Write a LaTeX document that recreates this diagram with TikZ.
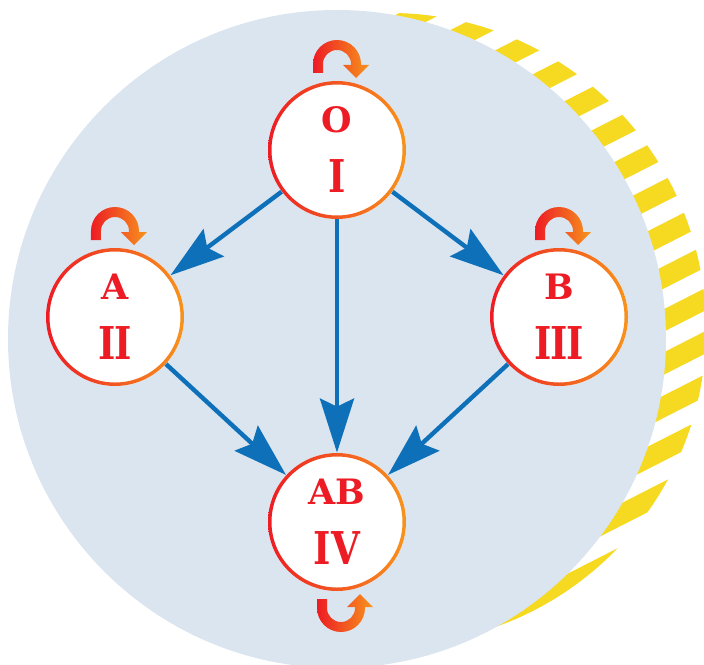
\documentclass[tikz,border=0pt]{standalone}
\usepackage{fontspec}
\setmainfont{DejaVu Serif}
\usetikzlibrary{arrows.meta,positioning}
\definecolor{plateBlue}   {HTML}{DBE5F0}
\definecolor{stripeYellow}{HTML}{F6D921}
\definecolor{flowBlue}    {HTML}{0D70B9}
\definecolor{stateRed}    {HTML}{ED1C24}
\definecolor{loopRed}     {HTML}{ED1C24}
\definecolor{loopOrange}  {HTML}{F7941D}
\tikzset{
  selfloop/.pic={
    \shade[left color=loopRed, right color=loopOrange]
      (-24,77) -- (-24,86) arc[start angle=180, end angle=0, radius=24]
      -- (24,85) -- (32,85) -- (19,72) -- (6,85) -- (14,85) -- (14,86)
      arc[start angle=0, end angle=180, radius=14] -- (-14,77) -- cycle;
  },
}
\newcommand{\romanNum}[1]{{\fontsize{22.6pt}{30pt}\selectfont\scalebox{0.82}[1]{#1}}}
\newcommand{\gradRing}[1]{%
  \shade[left color=loopRed, right color=loopOrange, even odd rule]
    (#1) circle[radius=69] (#1) circle[radius=65.5];
}

\begin{document}
\begin{tikzpicture}[x=0.5pt, y=0.5pt,
  stateNode/.style ={circle, fill=white, minimum size=69pt, inner sep=0pt, align=center,
                     text=stateRed, font=\bfseries\fontsize{17.5pt}{30pt}\selectfont},
  flow/.style      ={-{Stealth[length=27pt, width=17pt, inset=4pt]}, line width=2.2pt, flowBlue},
  yband/.style     ={stripeYellow, line width=10pt},
]

\useasboundingbox (-337,-325) rectangle (367,339);

% striped rim behind the plate
\begin{scope}
  \clip (53,10) circle[radius=316];
  \begin{scope}[rotate=27]
    \foreach \k in {-3,...,15}
      \draw[yband] (-420,213.8-38.4*\k) -- (420,213.8-38.4*\k);
  \end{scope}
\end{scope}

\fill[plateBlue] (0,0) circle[radius=329];

% states
\node[stateNode] (O)  at (0,189)    {O\\\romanNum{I}};
\node[stateNode] (A)  at (-222,22)  {A\\\romanNum{I\kern-1pt I}};
\node[stateNode] (B)  at (222,22)   {B\\\romanNum{I\kern-1pt I\kern-1pt I}};
\node[stateNode] (AB) at (0,-183)   {AB\\\romanNum{IV}};

\foreach \n in {O,A,B,AB}{
  \gradRing{\n}
}

% transitions
\draw[flow] (O) -- (A);
\draw[flow] (O) -- (B);
\draw[flow] (O) -- (AB);
\draw[flow] (A) -- (AB);
\draw[flow] (B) -- (AB);

\pic at (O) {selfloop};
\pic at (A) {selfloop};
\pic at (B) {selfloop};
\pic[yscale=-1] at ([xshift=2pt]AB) {selfloop};

\end{tikzpicture}
\end{document}
